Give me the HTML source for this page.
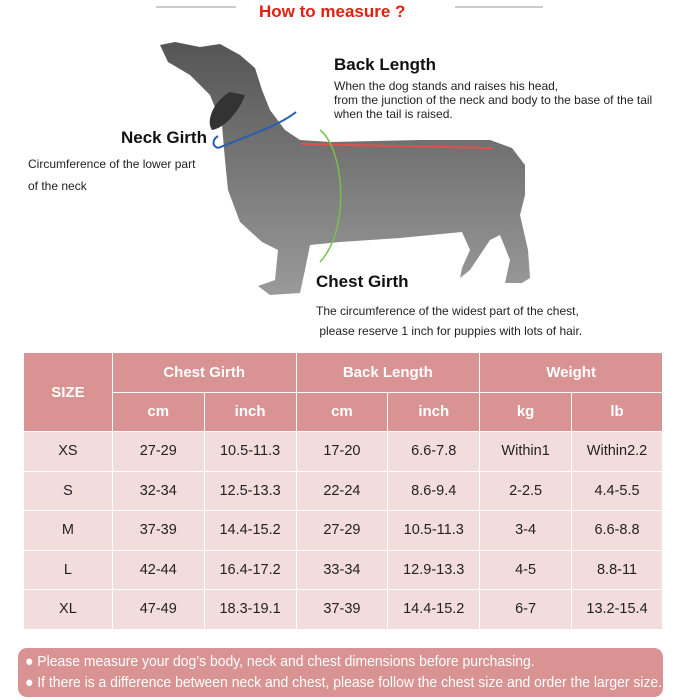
<!DOCTYPE html>
<html><head><meta charset="utf-8"><style>
*{margin:0;padding:0;box-sizing:border-box}
body{width:700px;height:700px;background:#fff;position:relative;overflow:hidden;font-family:"Liberation Sans",sans-serif;color:#222}
.a{position:absolute;white-space:nowrap}
.h{font-weight:bold;font-size:17px;color:#111}
.d{font-size:12px;color:#222;line-height:14px}
table{position:absolute;left:23px;top:352px;border-collapse:collapse;width:640px}
td{text-align:center;border:1px solid #fff;font-size:14.5px;color:#222}
.hd td{background:#d99393;color:#fff;font-weight:bold;font-size:15px;height:39.5px}
.r td{background:#f3dcdc;height:39.5px}
.ft{position:absolute;left:18px;top:648px;width:645px;height:49px;background:#d99393;border-radius:9px;color:#fff;font-size:15px;padding:3px 0 0 7px;line-height:21px}
.ft div{transform:scaleX(0.93);transform-origin:0 0;white-space:nowrap}
</style></head><body>
<div class="a" style="left:156px;top:6px;width:80px;height:2px;background:#ccc"></div>
<div class="a" style="left:455px;top:6px;width:88px;height:2px;background:#ccc"></div>
<div class="a" style="left:259px;top:2px;font-weight:bold;font-size:17px;color:#e02010">How to measure ?</div>
<svg class="a" style="left:0;top:0" width="700" height="340">
<defs><linearGradient id="g" x1="0" y1="0" x2="0" y2="1"><stop offset="0" stop-color="#555"/><stop offset="1" stop-color="#9a9a9a"/></linearGradient></defs>
<path d="M160,45 L175,42 L200,47 L220,44 L240,55 L255,68 L262,90 L270,110 L285,130 L300,140 L330,142 L420,140 L490,140 L512,148 L525,165 L525,195 L520,215 L528,250 L530,278 L522,283 L505,283 L510,260 L500,235 L490,240 L470,270 L460,278 L462,268 L470,250 L462,232 L400,238 L340,242 L310,245 L305,270 L300,293 L270,295 L258,286 L275,280 L278,250 L262,242 L240,222 L228,190 L225,160 L222,125 L210,95 L190,75 L168,62 Z" fill="url(#g)"/>
<path d="M230,92 C215,100 205,120 212,130 C225,128 240,110 245,95 Z" fill="#333"/>
<path d="M218,148 C250,135 280,125 296,112" stroke="#2a5db0" stroke-width="2" fill="none"/>
<path d="M218,148 C212,146 212,140 218,136" stroke="#2a5db0" stroke-width="2" fill="none"/>
<path d="M301,144 L493,148" stroke="#e05050" stroke-width="2"/>
<path d="M320,130 C345,150 350,230 320,262" stroke="#7ac04a" stroke-width="1.5" fill="none"/>
</svg>
<div class="a h" style="left:334px;top:55px">Back Length</div>
<div class="a d" style="left:334px;top:79px">When the dog stands and raises his head,<br>from the junction of the neck and body to the base of the tail<br>when the tail is raised.</div>
<div class="a h" style="left:121px;top:128px">Neck Girth</div>
<div class="a d" style="left:28px;top:153px;line-height:22px">Circumference of the lower part<br>of the neck</div>
<div class="a h" style="left:316px;top:272px">Chest Girth</div>
<div class="a d" style="left:316px;top:301px;line-height:20px">The circumference of the widest part of the chest,<br>&nbsp;please reserve 1 inch for puppies with lots of hair.</div>
<table>
<colgroup><col style="width:89px"><col style="width:92px"><col style="width:92px"><col style="width:92px"><col style="width:92px"><col style="width:92px"><col style="width:91px"></colgroup>
<tr class="hd"><td rowspan="2">SIZE</td><td colspan="2">Chest Girth</td><td colspan="2">Back Length</td><td colspan="2">Weight</td></tr>
<tr class="hd"><td>cm</td><td>inch</td><td>cm</td><td>inch</td><td>kg</td><td>lb</td></tr>
<tr class="r"><td>XS</td><td>27-29</td><td>10.5-11.3</td><td>17-20</td><td>6.6-7.8</td><td>Within1</td><td>Within2.2</td></tr>
<tr class="r"><td>S</td><td>32-34</td><td>12.5-13.3</td><td>22-24</td><td>8.6-9.4</td><td>2-2.5</td><td>4.4-5.5</td></tr>
<tr class="r"><td>M</td><td>37-39</td><td>14.4-15.2</td><td>27-29</td><td>10.5-11.3</td><td>3-4</td><td>6.6-8.8</td></tr>
<tr class="r"><td>L</td><td>42-44</td><td>16.4-17.2</td><td>33-34</td><td>12.9-13.3</td><td>4-5</td><td>8.8-11</td></tr>
<tr class="r"><td>XL</td><td>47-49</td><td>18.3-19.1</td><td>37-39</td><td>14.4-15.2</td><td>6-7</td><td>13.2-15.4</td></tr>
</table>
<div class="ft"><div>● Please measure your dog’s body, neck and chest dimensions before purchasing.</div><div>● If there is a difference between neck and chest, please follow the chest size and order the larger size.</div></div>
</body></html>
